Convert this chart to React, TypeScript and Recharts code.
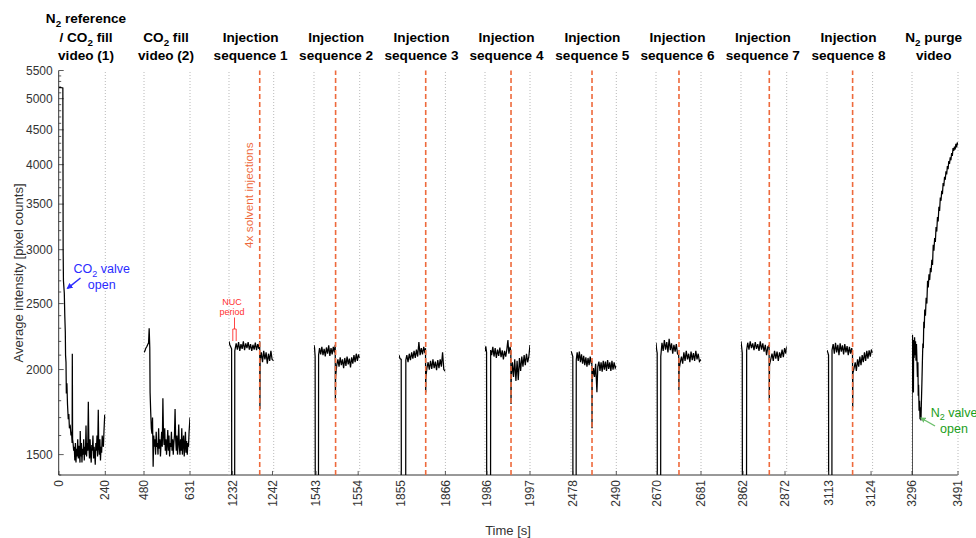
import React from 'react';
import { LineChart, Line, XAxis, YAxis, ReferenceLine } from 'recharts';

// ---- data (time [s], average intensity [pixel counts]) ----
const fill1: [number, number][] = [
  [0, 5190], [6, 5195], [12, 5190], [20, 5185], [21.5, 3000], [23, 2700], [27.5, 2590], [30, 2400], [32.7, 2270],
  [34, 2100], [36.3, 2050], [38, 1845], [41, 1910], [44, 1780], [48, 1690], [51, 1720], [54, 1640], [58.5, 1650],
  [62, 1600], [65, 1620], [68, 1560], [69, 2110], [70.5, 1580], [73, 1560], [76, 1520], [79, 1540], [82, 1470],
  [85, 1560], [88, 1460], [91, 1530], [94, 1490], [97, 1580], [100, 1480], [103, 1545], [106, 1500], [109, 1460],
  [110, 1625], [113, 1490], [116, 1560], [119, 1460], [122, 1530], [125, 1500], [128, 1580], [131, 1470], [134, 1540],
  [137, 1500], [140, 1655], [143, 1490], [146, 1560], [149, 1520], [152, 1793], [155, 1540], [158, 1480], [161, 1580],
  [164, 1500], [167, 1460], [170, 1550], [173, 1520], [176, 1600], [179, 1480], [182, 1540], [185, 1500], [188, 1450],
  [191, 1560], [194, 1520], [197, 1600], [200, 1490], [203.6, 1745], [206, 1540], [209, 1500], [212, 1580], [215, 1470],
  [218, 1540], [221, 1510], [224, 1600], [227, 1560], [230, 1540], [233, 1620], [237, 1717], [240, 1690],
];

const fill2: [number, number][] = [
  [480, 2120], [483, 2130], [486, 2150], [489, 2160], [492, 2175], [495, 2190], [497, 2300], [499, 2150], [500, 1850],
  [502, 1733], [504, 1640], [506, 1610], [508, 1700], [510, 1440], [512, 1600], [514, 1540], [516, 1580], [518, 1500],
  [520, 1620], [522, 1540], [524, 1560], [526, 1500], [528, 1640], [530, 1530], [532, 1580], [534, 1490], [536, 1560],
  [538, 1620], [540, 1540], [542, 1815], [544, 1600], [546, 1550], [548, 1640], [550, 1520], [552, 1580], [554, 1500],
  [556, 1560], [558, 1630], [560, 1520], [562, 1600], [564, 1490], [566, 1560], [568, 1540], [570, 1620], [572, 1520],
  [574, 1580], [576, 1500], [578, 1560], [580, 1600], [582, 1750], [584, 1580], [586, 1520], [588, 1600], [590, 1500],
  [592, 1560], [594, 1660], [596, 1540], [598, 1500], [600, 1580], [602, 1520], [604, 1640], [606, 1500], [608, 1560],
  [610, 1600], [612, 1490], [614, 1540], [616, 1620], [618, 1510], [620, 1570], [622, 1500], [624, 1560], [626, 1540],
  [628, 1620], [631, 1700],
];

const seq1: [number, number][] = [
  [1231.1, 2200], [1231.3, 2175], [1231.75, 2145], [1231.8, 1000], [1232.5, 1000], [1232.55, 2130], [1232.9, 2185],
  [1233.2, 2140], [1233.5, 2195], [1233.8, 2130], [1234.1, 2180], [1234.4, 2145], [1234.7, 2200], [1235.0, 2135],
  [1235.3, 2185], [1235.6, 2150], [1235.9, 2195], [1236.2, 2140], [1236.5, 2180], [1236.8, 2130], [1237.1, 2175],
  [1237.4, 2140], [1237.7, 2190], [1238.0, 2135], [1238.3, 2180], [1238.6, 2145], [1238.8, 2200], [1238.85, 1750],
  [1238.9, 2060], [1239.2, 2120], [1239.5, 2050], [1239.8, 2130], [1240.1, 2070], [1240.4, 2120], [1240.7, 2040],
  [1241.0, 2110], [1241.3, 2060], [1241.6, 2130], [1241.9, 2070], [1242.3, 2060],
];

const seq2: [number, number][] = [
  [1542.45, 2173], [1542.6, 2150], [1542.75, 2090], [1542.8, 1000], [1543.6, 1000], [1543.65, 2100], [1543.9, 2150],
  [1544.2, 2105], [1544.5, 2160], [1544.8, 2100], [1545.1, 2145], [1545.4, 2090], [1545.7, 2155], [1546.0, 2110],
  [1546.3, 2170], [1546.6, 2095], [1546.9, 2150], [1547.2, 2105], [1547.5, 2160], [1547.8, 2120], [1548.0, 2175],
  [1548.05, 1800], [1548.1, 1950], [1548.4, 2030], [1548.7, 2070], [1549.0, 2020], [1549.3, 2085], [1549.6, 2030],
  [1549.9, 2070], [1550.2, 2010], [1550.5, 2080], [1550.8, 2025], [1551.1, 2090], [1551.4, 2035], [1551.7, 2075],
  [1552.0, 2015], [1552.3, 2085], [1552.6, 2040], [1552.9, 2100], [1553.2, 2050], [1553.5, 2110], [1553.8, 2060],
  [1554.1, 2105], [1554.4, 2080],
];

const seq3: [number, number][] = [
  [1854.45, 2100], [1854.7, 2075], [1855.0, 2070], [1855.05, 1000], [1856.1, 1000], [1856.15, 2066], [1856.4, 2100],
  [1856.7, 2050], [1857.0, 2110], [1857.3, 2065], [1857.6, 2120], [1857.9, 2075], [1858.2, 2130], [1858.5, 2080],
  [1858.8, 2140], [1859.1, 2090], [1859.4, 2195], [1859.7, 2100], [1860.0, 2150], [1860.3, 2105], [1860.6, 2160],
  [1860.9, 2115], [1861.05, 2150], [1861.1, 1850], [1861.15, 1950], [1861.4, 2010], [1861.7, 2050], [1862.0, 2000],
  [1862.3, 2060], [1862.6, 2005], [1862.9, 2070], [1863.2, 2010], [1863.5, 2055], [1863.8, 1995], [1864.1, 2065],
  [1864.4, 2010], [1864.7, 2070], [1865.0, 2020], [1865.3, 2120], [1865.6, 2000], [1866.0, 1988],
];

const seq4: [number, number][] = [
  [1985.5, 2128], [1985.7, 2163], [1985.9, 2120], [1985.95, 1000], [1986.9, 1000], [1986.95, 2136], [1987.2, 2100],
  [1987.5, 2160], [1987.8, 2090], [1988.1, 2150], [1988.4, 2080], [1988.7, 2140], [1989.0, 2095], [1989.3, 2155],
  [1989.6, 2085], [1989.9, 2135], [1990.2, 2070], [1990.5, 2130], [1990.8, 2090], [1991.1, 2145], [1991.35, 2210],
  [1991.6, 2110], [1991.9, 2160], [1992.1, 2130], [1992.15, 1780], [1992.2, 1931], [1992.5, 2050], [1992.8, 1950],
  [1993.1, 2070], [1993.4, 1924], [1993.7, 2060], [1994.0, 1930], [1994.3, 2080], [1994.6, 1990], [1994.9, 2090],
  [1995.2, 2020], [1995.5, 2100], [1995.8, 2030], [1996.1, 2110], [1996.4, 2050], [1996.7, 2090], [1997.0, 2173],
];

const seq5: [number, number][] = [
  [2477.5, 2128], [2477.7, 2115], [2478.0, 2090], [2478.05, 1000], [2478.9, 1000], [2478.95, 2066], [2479.2, 2120],
  [2479.5, 2060], [2479.8, 2125], [2480.1, 2050], [2480.4, 2105], [2480.7, 2040], [2481.0, 2095], [2481.3, 2030],
  [2481.6, 2085], [2481.9, 2020], [2482.2, 2080], [2482.5, 2030], [2482.8, 2090], [2483.1, 2040], [2483.25, 2060],
  [2483.3, 1640], [2483.35, 1931], [2483.7, 2010], [2484.0, 1950], [2484.3, 2040], [2484.65, 1853], [2484.9, 2020],
  [2485.2, 2055], [2485.5, 1990], [2485.8, 2050], [2486.1, 1985], [2486.4, 2060], [2486.7, 2000], [2487.0, 2055],
  [2487.3, 1990], [2487.6, 2065], [2487.9, 2005], [2488.2, 2050], [2488.5, 1990], [2488.8, 2060], [2489.1, 2000],
  [2489.4, 2050], [2489.7, 2010], [2490.0, 2025],
];

const seq6: [number, number][] = [
  [2669.7, 2190], [2669.85, 2140], [2670.0, 2115], [2670.05, 1000], [2670.85, 1000], [2670.9, 2090], [2671.2, 2190],
  [2671.5, 2130], [2671.8, 2210], [2672.1, 2140], [2672.4, 2195], [2672.7, 2120], [2673.0, 2220], [2673.3, 2135],
  [2673.6, 2185], [2673.9, 2110], [2674.2, 2175], [2674.5, 2125], [2674.8, 2180], [2675.1, 2110], [2675.4, 2100],
  [2675.45, 1866], [2675.5, 1997], [2675.8, 2050], [2676.1, 2090], [2676.4, 2040], [2676.7, 2120], [2677.0, 2060],
  [2677.3, 2130], [2677.6, 2070], [2677.9, 2110], [2678.2, 2050], [2678.5, 2125], [2678.8, 2065], [2679.1, 2115],
  [2679.4, 2060], [2679.7, 2130], [2680.0, 2070], [2680.3, 2110], [2680.6, 2055], [2681.0, 2070],
];

const seq7: [number, number][] = [
  [2861.5, 2200], [2861.65, 2160], [2861.8, 2115], [2861.85, 1000], [2862.8, 1000], [2862.85, 2136], [2863.1, 2190],
  [2863.4, 2140], [2863.7, 2200], [2864.0, 2150], [2864.3, 2185], [2864.6, 2135], [2864.9, 2195], [2865.2, 2145],
  [2865.5, 2180], [2865.8, 2130], [2866.1, 2200], [2866.4, 2140], [2866.7, 2185], [2867.0, 2125], [2867.3, 2175],
  [2867.6, 2100], [2867.9, 2160], [2868.2, 2170], [2868.25, 1804], [2868.3, 2031], [2868.6, 2070], [2868.9, 2110],
  [2869.2, 2060], [2869.5, 2130], [2869.8, 2075], [2870.1, 2125], [2870.4, 2060], [2870.7, 2120], [2871.0, 2080],
  [2871.3, 2140], [2871.6, 2085], [2871.9, 2150], [2872.2, 2110], [2872.4, 2163],
];

const seq8: [number, number][] = [
  [3112.6, 2136], [3112.8, 2120], [3113.0, 2100], [3113.05, 1000], [3113.85, 1000], [3113.9, 2136], [3114.2, 2180],
  [3114.5, 2110], [3114.8, 2190], [3115.1, 2120], [3115.4, 2175], [3115.7, 2100], [3116.0, 2185], [3116.3, 2125],
  [3116.6, 2170], [3116.9, 2105], [3117.2, 2180], [3117.5, 2120], [3117.8, 2165], [3118.1, 2100], [3118.4, 2160],
  [3118.7, 2110], [3119.0, 2150], [3119.2, 2110], [3119.25, 1760], [3119.3, 1975], [3119.6, 2010], [3119.9, 2050],
  [3120.2, 1990], [3120.5, 2070], [3120.8, 2020], [3121.1, 2090], [3121.4, 2030], [3121.7, 2100], [3122.0, 2050],
  [3122.3, 2120], [3122.6, 2060], [3122.9, 2130], [3123.2, 2075], [3123.5, 2135], [3123.8, 2090], [3124.1, 2140],
  [3124.4, 2115],
];

const purge: [number, number][] = [
  [3296, 1000], [3296.5, 2163], [3298, 2250], [3300, 2120], [3302, 1850], [3303, 2210], [3305, 2080], [3307, 2230],
  [3309, 2100], [3311, 2200], [3313, 2060], [3315, 2180], [3317, 2066], [3319, 1950], [3321, 2050], [3322.5, 1830],
  [3324, 1900], [3326, 1740], [3328, 1800], [3330, 1690], [3332, 1760], [3334, 1683], [3336, 1800], [3338, 1913],
  [3340, 2050], [3342, 2185], [3344, 2150], [3346, 2350], [3348, 2300], [3350, 2450], [3353, 2400], [3356, 2550],
  [3359, 2500], [3362, 2700], [3365, 2640], [3368, 2760], [3371, 2707], [3374, 2820], [3377, 2780], [3380, 2900],
  [3383, 2850], [3386, 3050], [3389, 2990], [3392, 3120], [3395, 3080], [3398, 3240], [3401, 3190], [3404, 3350],
  [3407, 3300], [3410, 3470], [3413, 3420], [3416, 3580], [3419, 3540], [3422, 3660], [3425, 3620], [3428, 3760],
  [3431, 3720], [3434, 3840], [3437, 3800], [3440, 3910], [3443, 3870], [3446, 3980], [3449, 3940], [3452, 4050],
  [3455, 4010], [3458, 4100], [3461, 4060], [3464, 4160], [3467, 4120], [3470, 4230], [3473, 4190], [3476, 4250],
  [3479, 4210], [3482, 4290], [3485, 4240], [3488, 4310], [3491, 4280],
];

const segData = [fill1, fill2, seq1, seq2, seq3, seq4, seq5, seq6, seq7, seq8, purge];

// time span shown by each axis segment, and its two tick labels
const segDomains: [number, number][] = [
  [0, 240], [480, 631], [1231.1, 1242.3], [1542.45, 1554.4], [1854.45, 1866], [1985.5, 1997],
  [2477.5, 2490], [2669.7, 2681], [2861.5, 2872.4], [3112.6, 3124.4], [3296, 3491],
];
const segTicks: number[][] = [
  [0, 240], [480, 631], [1232, 1242], [1543, 1554], [1855, 1866], [1986, 1997],
  [2478, 2490], [2670, 2681], [2862, 2872], [3113, 3124], [3296, 3491],
];
// solvent injection moment in each injection sequence
const injections: (number | null)[] = [
  null, null, 1238.8, 1548.1, 1861.1, 1992.15, 2483.3, 2675.47, 2868.25, 3119.23, null,
];

const segTitles: string[][] = [
  ['N_2 reference', '/ CO_2 fill', 'video (1)'],
  ['CO_2 fill', 'video (2)'],
  ['Injection', 'sequence 1'],
  ['Injection', 'sequence 2'],
  ['Injection', 'sequence 3'],
  ['Injection', 'sequence 4'],
  ['Injection', 'sequence 5'],
  ['Injection', 'sequence 6'],
  ['Injection', 'sequence 7'],
  ['Injection', 'sequence 8'],
  ['N_2 purge', 'video'],
];

const yMajor = [1500, 2000, 2500, 3000, 3500, 4000, 4500, 5000, 5500];
const yAll: number[] = [];
for (let v = 1400; v <= 5500; v += 100) yAll.push(v);

// ---- layout ----
const W = 976;
const H = 538;
const PLOT_TOP = 70.5;
const PLOT_BOTTOM = 475;
const SEG_LEFT = [58.7, 144, 229.3, 314.3, 399.3, 485, 570.7, 656, 741, 826.7, 911.7];
const SEG_RIGHT = [105, 190, 274, 360, 445.7, 530, 616, 701, 786.7, 872.3, 957.7];
const AXIS = '#333333';
const TEXT = '#333333';
const ORANGE = '#EE6A3C';
const GRID = '#b8b8b8';

function Rich({ text, size }: { text: string; size: number }) {
  const parts = text.split('_');
  return (
    <>
      {parts.map((p, i) =>
        i === 0 ? (
          <tspan key={i}>{p}</tspan>
        ) : (
          <React.Fragment key={i}>
            <tspan fontSize={size * 0.72} dy={size * 0.3}>{p[0]}</tspan>
            <tspan dy={-size * 0.3}>{p.slice(1)}</tspan>
          </React.Fragment>
        )
      )}
    </>
  );
}

const XTick = (props: any) => {
  const { x, y, payload } = props;
  const tx = x + 4.2;
  const ty = y + 5;
  return (
    <g>
      <line x1={x} y1={y} x2={x} y2={y - 4} stroke={AXIS} strokeWidth={0.8} />
      <text x={tx} y={ty} transform={`rotate(-90 ${tx} ${ty})`} textAnchor="end" fontSize={12} fill={TEXT}>
        {payload.value}
      </text>
    </g>
  );
};

const YTick = (props: any) => {
  const { x, y, payload } = props;
  const major = yMajor.includes(payload.value);
  return (
    <g>
      <line x1={x} y1={y} x2={x + (major ? 5 : 2.5)} y2={y} stroke={AXIS} strokeWidth={0.8} />
      {major && (
        <text x={x - 6} y={y + 4.3} textAnchor="end" fontSize={12} fill={TEXT}>
          {payload.value}
        </text>
      )}
    </g>
  );
};

function Segment({ i }: { i: number }) {
  const [d0, d1] = segDomains[i];
  const pad = 12;
  const w = SEG_RIGHT[i] - SEG_LEFT[i];
  const data = segData[i].map(([t, v]) => ({ t, v }));
  const inj = injections[i];
  return (
    <div style={{ position: 'absolute', left: SEG_LEFT[i] - pad, top: 0 }}>
      <LineChart
        width={w + 2 * pad}
        height={H}
        data={data}
        margin={{ top: PLOT_TOP, right: pad, bottom: H - PLOT_BOTTOM - 40, left: pad }}
      >
        <XAxis
          dataKey="t"
          type="number"
          domain={[d0, d1]}
          allowDataOverflow
          ticks={segTicks[i]}
          interval={0}
          height={40}
          axisLine={false}
          tickLine={false}
          tickSize={0}
          tickMargin={0}
          tick={XTick}
        />
        <YAxis type="number" scale="log" domain={[1400, 5500]} allowDataOverflow hide />
        {i > 0 && <ReferenceLine x={d0} stroke={GRID} strokeDasharray="1 2" />}
        <ReferenceLine x={d1} stroke={GRID} strokeDasharray="1 2" />
        <Line
          dataKey="v"
          type="linear"
          stroke="#000"
          strokeWidth={1.25}
          dot={false}
          isAnimationActive={false}
        />
        {inj !== null && (
          <ReferenceLine x={inj} stroke={ORANGE} strokeWidth={1.6} strokeDasharray="5 3" />
        )}
      </LineChart>
    </div>
  );
}

export default function App() {
  return (
    <div
      style={{
        position: 'absolute',
        left: 0,
        top: 0,
        width: W,
        height: H,
        background: '#fff',
        overflow: 'hidden',
        fontFamily: "'Liberation Sans', Arial, Helvetica, sans-serif",
      }}
    >
      <div style={{ position: 'absolute', left: 0, top: 0 }}>
        <LineChart
          width={W}
          height={H}
          data={[]}
          margin={{ top: PLOT_TOP, right: W - 957.7, bottom: H - PLOT_BOTTOM - 30, left: 58.7 - 50 }}
        >
          <XAxis type="number" domain={[0, 1]} height={30} tick={false} tickLine={false} axisLine={{ stroke: AXIS }} />
          <YAxis
            type="number"
            scale="log"
            domain={[1400, 5500]}
            allowDataOverflow
            ticks={yAll}
            interval={0}
            width={50}
            tickSize={0}
            tickMargin={0}
            tickLine={false}
            tick={YTick}
            axisLine={{ stroke: AXIS }}
          />
        </LineChart>
      </div>

      {segData.map((_, i) => (
        <Segment key={i} i={i} />
      ))}

      <svg width={W} height={H} style={{ position: 'absolute', left: 0, top: 0, pointerEvents: 'none' }}>
        <defs>
          <marker id="headBlue" viewBox="0 0 10 10" refX="8" refY="5" markerWidth="4" markerHeight="4" orient="auto">
            <path d="M0,0 L10,5 L0,10 z" fill="#2b2bff" />
          </marker>
          <marker id="headGreen" viewBox="0 0 10 10" refX="8" refY="5" markerWidth="4" markerHeight="4" orient="auto">
            <path d="M0,0 L10,5 L0,10 z" fill="#6cbf6c" />
          </marker>
        </defs>

        {segTitles.map((lines, i) => {
          const cx = i === 0 ? 86 : (SEG_LEFT[i] + SEG_RIGHT[i]) / 2 - 1;
          const baselines = [60.3, 42, 23.2];
          return lines.map((line, j) => (
            <text
              key={`${i}-${j}`}
              x={cx}
              y={baselines[lines.length - 1 - j]}
              textAnchor="middle"
              fontSize={13.6}
              fontWeight="bold"
              fill="#000"
            >
              <Rich text={line} size={13.6} />
            </text>
          ));
        })}

        <text x={23} y={273} transform="rotate(-90 23 273)" textAnchor="middle" fontSize={13} fill={TEXT}>
          Average intensity [pixel counts]
        </text>
        <text x={508} y={535} textAnchor="middle" fontSize={13} fill={TEXT}>
          Time [s]
        </text>

        {/* CO2 valve open */}
        <text x={101.7} y={273} textAnchor="middle" fontSize={12.5} fill="#2b2bff">
          <Rich text="CO_2 valve" size={12.5} />
        </text>
        <text x={101.7} y={288.5} textAnchor="middle" fontSize={12.5} fill="#2b2bff">
          open
        </text>
        <line x1={80.5} y1={278} x2={67.5} y2={288.3} stroke="#2b2bff" strokeWidth={1.5} markerEnd="url(#headBlue)" />

        {/* NUC period */}
        <text x={232} y={305} textAnchor="middle" fontSize={9} fill="#ff3030">NUC</text>
        <text x={232} y={314.5} textAnchor="middle" fontSize={9} fill="#ff3030">period</text>
        <line x1={234.5} y1={317.5} x2={234.5} y2={329} stroke="#ff3030" strokeWidth={0.9} />
        <path d="M232.8 341 V329 H236.2 V341" fill="none" stroke="#ff3030" strokeWidth={0.9} />

        {/* injections */}
        <text x={252.5} y={248} transform="rotate(-90 252.5 248)" fontSize={11.8} fill={ORANGE}>
          4x solvent injections
        </text>

        {/* N2 valve open */}
        <text x={954} y={416.5} textAnchor="middle" fontSize={12.5} fill="#1a9e1a">
          <Rich text="N_2 valve" size={12.5} />
        </text>
        <text x={954} y={432.5} textAnchor="middle" fontSize={12.5} fill="#1a9e1a">
          open
        </text>
        <line x1={935} y1={426} x2={921} y2={418} stroke="#6cbf6c" strokeWidth={1.4} markerEnd="url(#headGreen)" />
      </svg>
    </div>
  );
}
